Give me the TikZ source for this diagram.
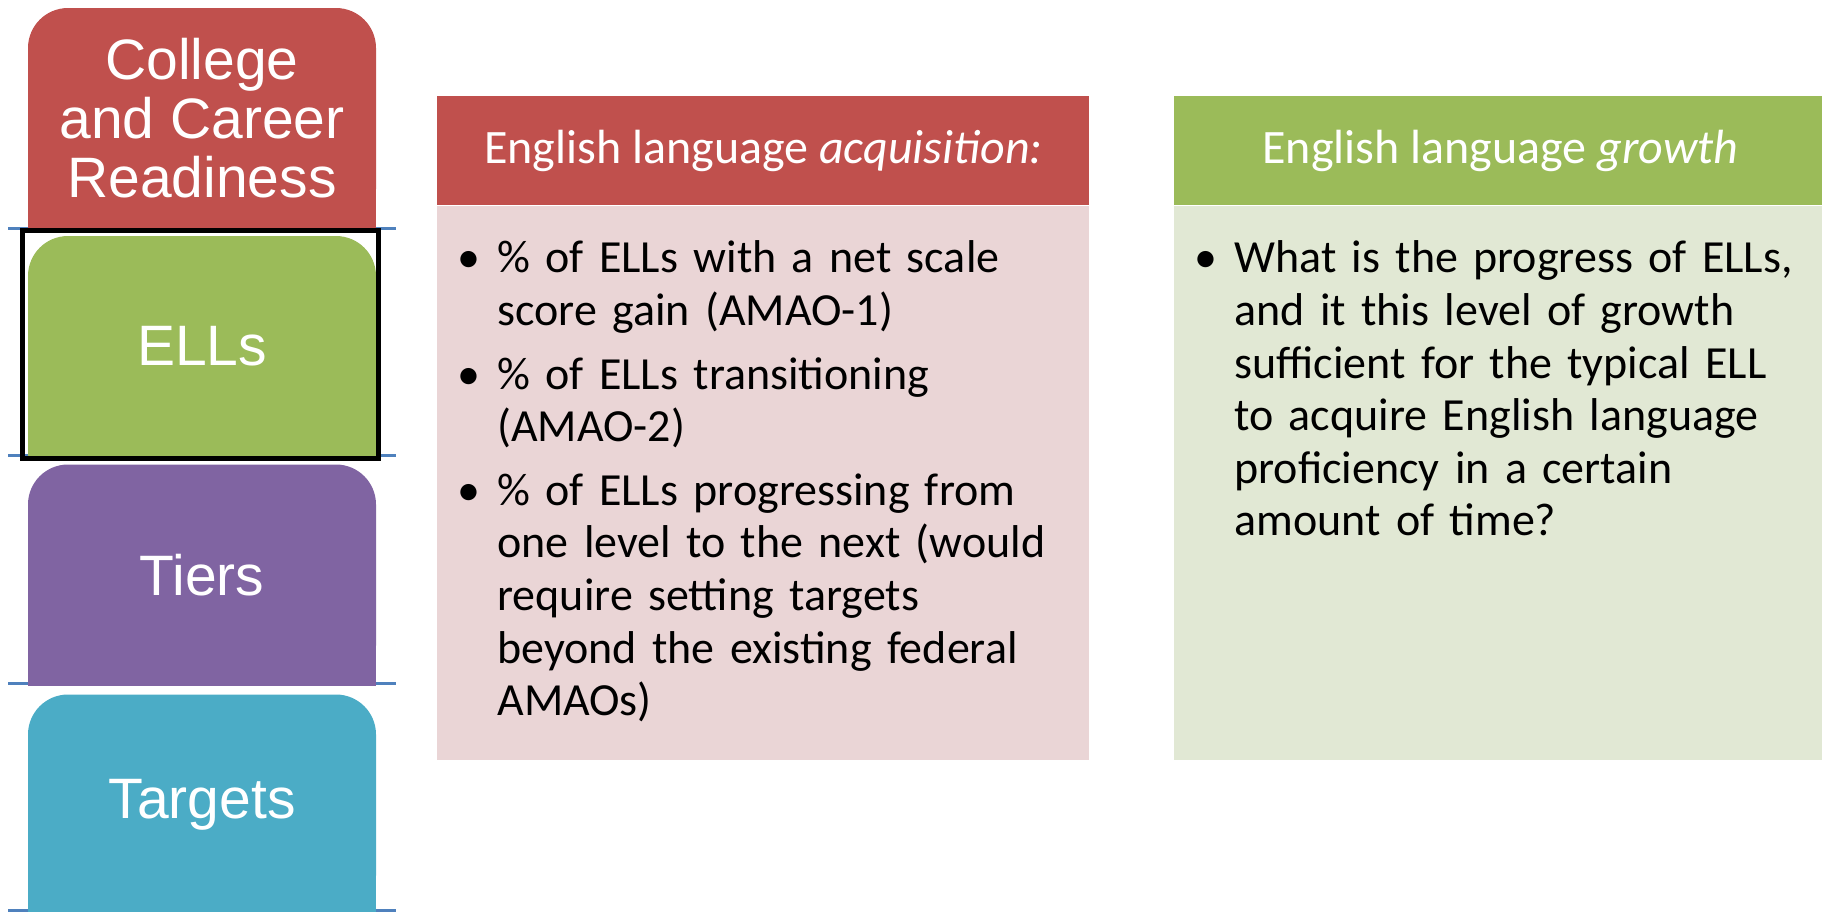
\documentclass[tikz,border=0pt]{standalone}
\usepackage{fontspec}
\setmainfont{Carlito}
\newfontfamily\tabfont{Liberation Sans}
\usetikzlibrary{positioning,backgrounds}

\definecolor{ccrred}{HTML}{C0504D}
\definecolor{ellgreen}{HTML}{9BBB59}
\definecolor{tierpurple}{HTML}{8064A2}
\definecolor{targetteal}{HTML}{4BACC6}
\definecolor{rulecol}{HTML}{4F81BD}
\definecolor{acqpink}{HTML}{EAD5D6}
\definecolor{growpale}{HTML}{E1E8D4}

\newenvironment{bulletlist}{\setlength{\linewidth}{\hsize}%
\begin{list}{\textbullet}{%
\setlength{\leftmargin}{16pt}\setlength{\labelsep}{8.5pt}%
\setlength{\labelwidth}{16pt}\setlength{\itemsep}{5.5pt}%
\setlength{\parsep}{0pt}\setlength{\topsep}{0pt}\setlength{\partopsep}{0pt}}\raggedright}%
{\end{list}}

\begin{document}
\begin{tikzpicture}[x=0.5pt,y=-0.5pt,
tab/.style={rounded corners=20pt,minimum width=174pt,minimum height=110.5pt,inner sep=0pt,
 text=white,align=center,font=\tabfont\fontsize{28.5}{29.5}\selectfont},
head/.style={minimum width=326pt,minimum height=54.5pt,inner sep=0pt,text=white,
 font=\fontsize{24}{29}\selectfont},
panel/.style={minimum width=326pt,minimum height=277pt,inner sep=0pt},
points/.style={inner sep=0pt,text width=310pt,align=left,font=\fontsize{23}{26.3}\selectfont},
rule/.style={rulecol,line width=1.5pt}]
\useasboundingbox (0,0) rectangle (1822,911);

\node[tab,fill=ccrred] (ccr) at (202,118.5) {College\\and Career\\Readiness};
\node[tab,fill=ellgreen] (ells) at (202,346.5) {ELLs};
\node[tab,fill=tierpurple] (tiers) at (202,575) {Tiers};
\node[tab,fill=targetteal] (targets) at (202,805) {Targets};
\begin{scope}[on background layer]
\foreach \y in {228,455,683,910}
  \draw[rule] (8,\y) -- (396,\y);
\fill[ccrred] (ccr.west) rectangle (ccr.south east);
\fill[ellgreen] (ells.west) rectangle (ells.south east);
\fill[tierpurple] (tiers.west) rectangle (tiers.south east);
\fill[targetteal] (targets.west) rectangle (targets.south east);
\end{scope}
\draw[line width=2.5pt] (22,230) rectangle (378,458);

\node[head,fill=ccrred,anchor=north west] (acqhead) at (437,96) {English language \textit{acquisition:}};
\node[panel,fill=acqpink,below=0pt of acqhead] (acqpanel) {};
\node[points,anchor=north west] (acqpoints) at ([shift={(28,14)}]acqpanel.north west) {%
\begin{bulletlist}
\item \% of ELLs with a net scale\\score gain (AMAO-1)
\item \% of ELLs transitioning\\(AMAO-2)
\item \% of ELLs progressing from\\one level to the next (would\\require setting targets\\beyond the existing federal\\AMAOs)
\end{bulletlist}};

\node[head,fill=ellgreen,anchor=north west] (growhead) at (1174,96) {English language \textit{growth}};
\node[panel,fill=growpale,below=0pt of growhead] (growpanel) {};
\node[points,anchor=north west] (growpoints) at ([shift={(28,14)}]growpanel.north west) {%
\begin{bulletlist}
\item What is the progress of ELLs,\\and it this level of growth\\sufficient for the typical ELL\\to acquire English language\\proficiency in a certain\\amount of time?
\end{bulletlist}};
\end{tikzpicture}
\end{document}
